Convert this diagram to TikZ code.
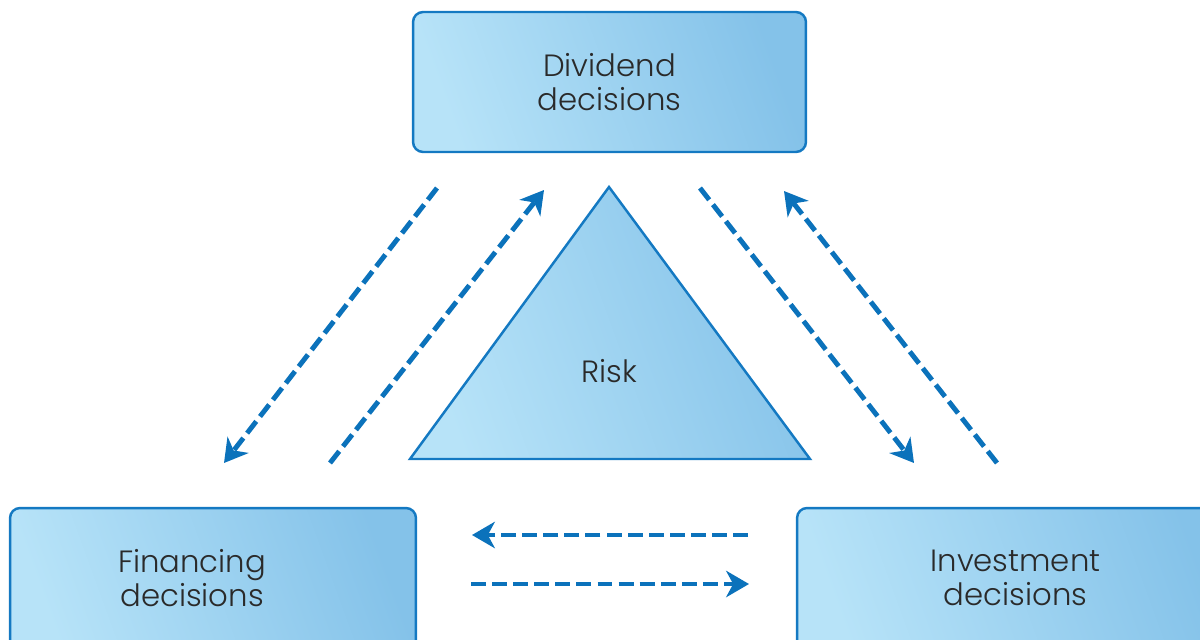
\documentclass[tikz,border=0pt]{standalone}
\usepackage{fontspec}
\setmainfont{Poppins}[UprightFont=* Light]
\usetikzlibrary{arrows.meta}
\definecolor{boxlight}{HTML}{B7E3F8}
\definecolor{boxdark}{HTML}{84C2E9}
\definecolor{boxline}{HTML}{1479C2}
\definecolor{flowblue}{HTML}{0B72BB}
\definecolor{txt}{HTML}{2A2A2A}

\begin{document}
\begin{tikzpicture}[x=0.02cm,y=-0.02cm,
  box/.style={draw=boxline,line width=1.4pt,rounded corners=0.2cm,inner sep=0pt,
    left color=boxlight,right color=boxdark,shading angle=110,
    text=txt,align=center,font=\fontsize{17.5}{19.5}\selectfont},
  lbl/.style={text=txt,align=center,font=\fontsize{17.5}{19.5}\selectfont},
  flow/.style={draw=flowblue,line width=2.8pt,dash pattern=on 8.5pt off 3.5pt,
    -{Stealth[length=13pt,width=15pt,inset=4pt]}}]
  \useasboundingbox (0,0) rectangle (1200,639);
  \clip (0,0) rectangle (1200,639);

  \node[box,minimum width=7.86cm,minimum height=2.8cm] (div) at (609.5,82) {Dividend\\decisions};
  \node[box,minimum width=8.12cm,minimum height=2.84cm] (fin) at (213,579) {};
  \node[lbl] (finlbl) at (192,578) {Financing\\decisions};
  \node[box,minimum width=8.72cm,minimum height=2.84cm] (inv) at (1015,579) {};
  \node[lbl] (invlbl) at (1015.5,578) {Investment\\decisions};

  % risk triangle
  \path[draw=boxline,line width=1.4pt,left color=boxlight,right color=boxdark,shading angle=110]
    (609,187) -- (810,459) -- (410,459) -- cycle;
  \node[lbl] (risk) at (609,371) {Risk};

  \coordinate (dfs) at (437,188);  \coordinate (dfe) at (224,463);
  \coordinate (fds) at (330,463);  \coordinate (fde) at (544,190);
  \coordinate (dis) at (700,188);  \coordinate (die) at (914,463);
  \coordinate (ids) at (997,463);  \coordinate (ide) at (784,191);
  \coordinate (ifs) at (748,535);  \coordinate (ife) at (472,535);
  \coordinate (fis) at (471,584);  \coordinate (fie) at (749,584);
  \foreach \s/\e in {dfs/dfe,fds/fde,dis/die,ids/ide,ifs/ife,fis/fie}
    \draw[flow] (\s) -- (\e);
\end{tikzpicture}
\end{document}
